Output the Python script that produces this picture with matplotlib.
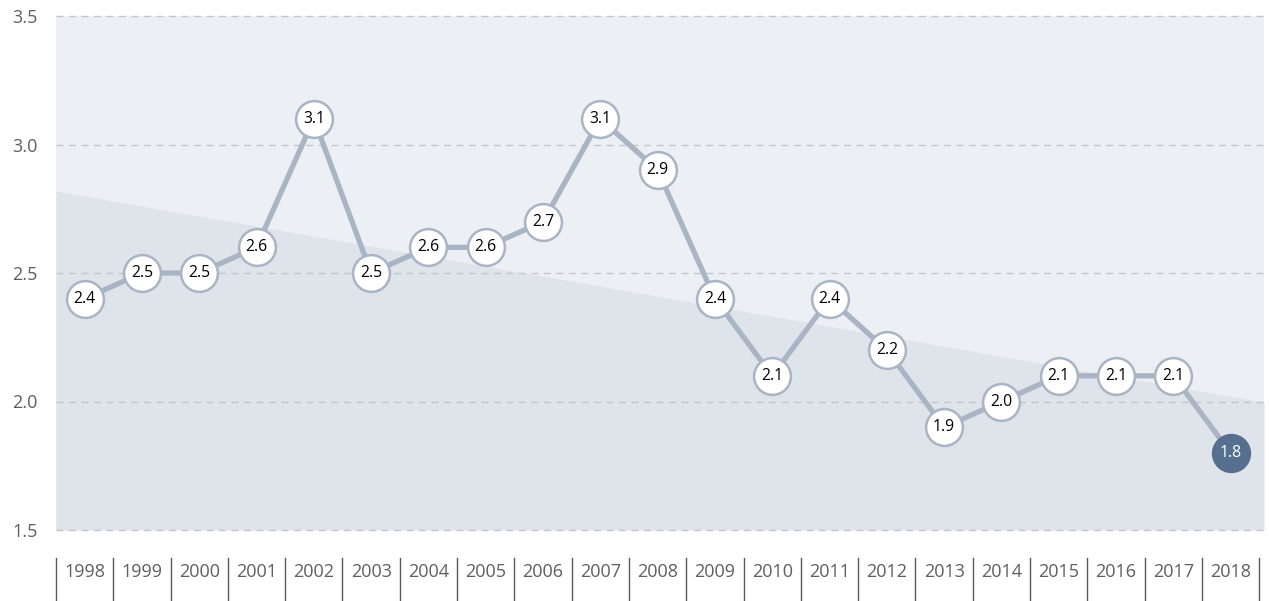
import numpy as np
import matplotlib
matplotlib.use("Agg")
import matplotlib.pyplot as plt
import matplotlib.transforms as mtransforms

years = ["1998", "1999", "2000", "2001", "2002", "2003", "2004", "2005", "2006", "2007",
         "2008", "2009", "2010", "2011", "2012", "2013", "2014", "2015", "2016", "2017", "2018"]
values = [2.4, 2.5, 2.5, 2.6, 3.1, 2.5, 2.6, 2.6, 2.7, 3.1,
          2.9, 2.4, 2.1, 2.4, 2.2, 1.9, 2.0, 2.1, 2.1, 2.1, 1.8]
y_ticks = [1.5, 2.0, 2.5, 3.0, 3.5]
y_tick_labels = ["1.5", "2.0", "2.5", "3.0", "3.5"]

plt.rcParams['font.family'] = ['Open Sans', 'DejaVu Sans']

W, H = 1269, 601
fig = plt.figure(figsize=(W / 100, H / 100), dpi=100)
left_px, right_px = 56, 1264
cat_w = 57.3
ax = fig.add_axes([left_px / W, 1 - 530 / H, (right_px - left_px) / W, 514 / H])

n = len(values)
x = np.arange(n)
x_lo = -0.5
x_hi = x_lo + (right_px - left_px) / cat_w
ax.set_xlim(x_lo, x_hi)
ax.set_ylim(1.5, 3.5)

# background and trend area
ax.set_facecolor("#ECEFF3")
coef = np.polyfit(x, values, 1)
tx = np.array([x_lo, x_hi])
ty = np.polyval(coef, tx)
ax.fill_between(tx, 1.5, ty, color="#DFE3EA", lw=0, zorder=1)

# grid
for yv in y_ticks:
    ax.axhline(yv, color="#C3C6CB", lw=1.0, ls=(0, (5, 4)), zorder=2, clip_on=False)

# line + markers
line_col = "#A9B5C4"
ax.plot(x, values, color=line_col, lw=3.8, zorder=3, solid_capstyle="round")
face = ["white"] * (n - 1) + ["#566F8E"]
txtcol = ["black"] * (n - 1) + ["white"]
for xi, v, fc, tc in zip(x, values, face, txtcol):
    ax.plot([xi], [v], marker="o", ms=26.5, mfc=fc, mec=line_col if fc == "white" else fc,
            mew=1.8, zorder=4, ls="none")
    ax.text(xi, v, f"{v:.1f}", ha="center", va="center", fontsize=11.3, color=tc, zorder=5)

for s in ax.spines.values():
    s.set_visible(False)
ax.set_xticks([])
ax.set_yticks(y_ticks)
ax.set_yticklabels(y_tick_labels)
ax.tick_params(axis="y", length=0, pad=13, labelsize=13, labelcolor="#5F5F5F")

# category axis with separators
trans = mtransforms.blended_transform_factory(ax.transData, fig.transFigure)
for b in np.arange(n + 1) - 0.5:
    ax.plot([b, b], [1 - 558 / H, 0.0], color="#595959", lw=1.0, transform=trans, clip_on=False)
for xi, lab in zip(x, years):
    ax.text(xi, 1 - 572 / H, lab, ha="center", va="center", fontsize=13, color="#5F5F5F",
            transform=trans)

fig.savefig("out.png", dpi=100)
